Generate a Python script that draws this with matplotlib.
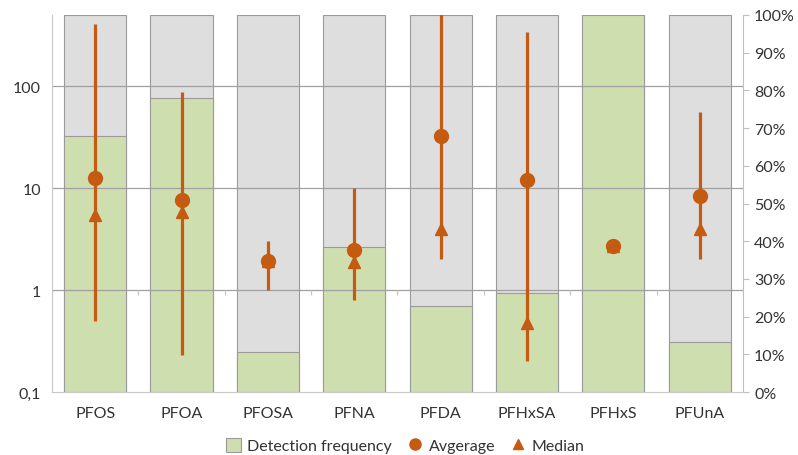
import matplotlib
matplotlib.use("Agg")
import matplotlib.pyplot as plt
from matplotlib.lines import Line2D
from matplotlib.patches import Patch
from matplotlib.ticker import FixedLocator, FuncFormatter
import numpy as np

compounds = ["PFOS", "PFOA", "PFOSA", "PFNA", "PFDA", "PFHxSA", "PFHxS", "PFUnA"]
detection_pct = [68, 78, 10.5, 38.4, 22.8, 26.2, 100, 13.4]
average = [12.5, 7.7, 1.92, 2.47, 32, 12, 2.72, 8.4]
median = [5.4, 5.8, 1.92, 1.87, 3.96, 0.48, 2.72, 4.0]
min_val = [0.5, 0.23, 1.0, 0.80, 2.0, 0.2, 2.72, 2.0]
max_val = [405, 87, 3.0, 10, 600, 336, 2.72, 55]

ORANGE = "#c55a11"
GREEN = "#cfdeaf"
GREY_BAR = "#dedede"
EDGE = "#9a9a9a"
TEXT = "#333333"

plt.rcParams["font.family"] = ["Lato", "DejaVu Sans"]


def main():
    fig = plt.figure(figsize=(7.98, 4.56), dpi=100)
    ax = fig.add_axes([0.0652, 0.138, 0.8658, 0.827])
    ax2 = ax.twinx()
    x = np.arange(len(compounds))

    # bars (right axis, percent)
    ax.bar(x, [100] * len(x), width=0.72, color=GREY_BAR, edgecolor=EDGE, linewidth=0.8, zorder=1)
    ax.bar(x, detection_pct, width=0.72, color=GREEN, edgecolor=EDGE, linewidth=0.8, zorder=2)
    ax.set_ylim(0, 100)
    ax.set_xlim(-0.5, len(x) - 0.5)
    ax.yaxis.tick_right()
    ax.yaxis.set_label_position("right")
    ax.yaxis.set_major_locator(FixedLocator(np.arange(0, 101, 10)))
    ax.yaxis.set_major_formatter(FuncFormatter(lambda v, p: f"{int(v)}%"))
    ax.tick_params(axis="y", length=4, color="#bfbfbf", labelsize=11.5, labelcolor=TEXT, pad=4)
    ax.tick_params(axis="x", length=0, labelsize=11.5, labelcolor=TEXT, pad=10)
    ax.set_xticks(x)
    ax.set_xticklabels(compounds)
    for s in ["top", "left"]:
        ax.spines[s].set_visible(False)
    ax.spines["right"].set_color("#bfbfbf")
    ax.spines["bottom"].set_color("#c8c8c8")

    # concentrations (left axis, log)
    ax2.set_yscale("log")
    ax2.set_ylim(0.1, 497)
    ax2.yaxis.tick_left()
    ax2.yaxis.set_label_position("left")
    ax2.yaxis.set_major_locator(FixedLocator([0.1, 1, 10, 100]))
    ax2.yaxis.set_minor_locator(FixedLocator([]))
    ax2.yaxis.set_major_formatter(FuncFormatter(lambda v, p: "0,1" if v < 1 else f"{int(v)}"))
    ax2.tick_params(axis="y", length=0, labelsize=11.5, labelcolor=TEXT, pad=8)
    for s in ["top", "right", "bottom"]:
        ax2.spines[s].set_visible(False)
    ax2.spines["left"].set_color("#c8c8c8")
    for v in [1, 10, 100]:
        ax2.axhline(v, color="#a0a0a0", lw=0.9, zorder=1)
    # category axis crosses at 1
    y1 = 1 / np.log10(4970)
    ax2.vlines(np.arange(len(x) + 1) - 0.5, y1 - 0.014, y1, transform=ax2.get_xaxis_transform(),
               color="#c8c8c8", lw=0.9)

    ax2.vlines(x, min_val, max_val, color=ORANGE, lw=2.3, zorder=3)
    ax2.plot(x, median, linestyle="none", marker="^", ms=8.5, color=ORANGE, zorder=4)
    ax2.plot(x, average, linestyle="none", marker="o", ms=10, color=ORANGE, zorder=5)

    handles = [
        Patch(facecolor=GREEN, edgecolor=EDGE, linewidth=0.8, label="Detection frequency"),
        Line2D([], [], linestyle="none", marker="o", ms=8, color=ORANGE, label="Avgerage"),
        Line2D([], [], linestyle="none", marker="^", ms=7, color=ORANGE, label="Median"),
    ]
    fig.legend(handles=handles, loc="center", bbox_to_anchor=(0.508, 0.02), ncol=3, frameon=False,
               fontsize=11.5, handlelength=0.9, handleheight=0.9, handletextpad=0.4, columnspacing=1.0,
               labelcolor=TEXT)

    fig.savefig("out.png", dpi=100)


if __name__ == "__main__":
    main()
